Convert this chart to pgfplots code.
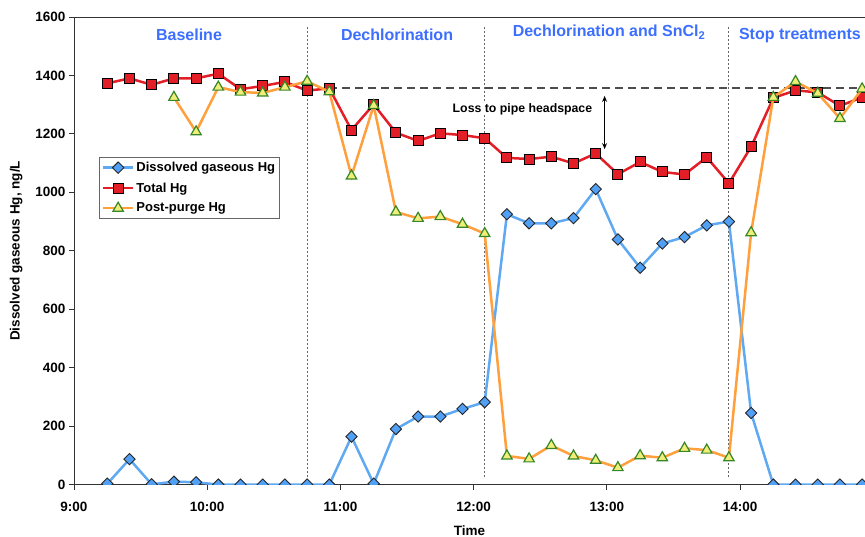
\documentclass[border=0pt]{standalone}
\usepackage{fontspec}
\setmainfont{Liberation Sans}
\usepackage{pgfplots}
\pgfplotsset{compat=1.18}
\usetikzlibrary{arrows.meta}

\definecolor{dgblue}{RGB}{95,168,242}
\definecolor{dgmark}{RGB}{80,160,245}
\definecolor{thred}{RGB}{228,30,38}
\definecolor{ppor}{RGB}{255,160,60}
\definecolor{ppfill}{RGB}{238,238,120}
\definecolor{ppedge}{RGB}{55,135,40}
\definecolor{phase}{RGB}{60,110,255}

\pgfplotstableread{
t v
15 3
25 87
35 1
45 10
55 8
65 0
75 0
85 0
95 0
105 0
115 0
125 164
135 3
145 190
155 233
165 233
175 259
185 282
195 925
205 894
215 894
225 912
235 1011
245 839
255 742
265 825
275 847
285 887
295 900
305 245
315 0
325 0
335 0
345 0
355 0
}\dissolved

\pgfplotstableread{
t v
15 1373
25 1390
35 1368
45 1390
55 1390
65 1406
75 1353
85 1364
95 1378
105 1348
115 1356
125 1213
135 1301
145 1204
155 1176
165 1202
175 1196
185 1185
195 1118
205 1114
215 1122
225 1099
235 1133
245 1062
255 1104
265 1070
275 1061
285 1120
295 1031
305 1156
315 1323
325 1349
335 1342
345 1296
355 1325
}\total

\pgfplotstableread{
t v
45 1325
55 1207
65 1360
75 1343
85 1340
95 1360
105 1380
115 1344
125 1056
135 1297
145 933
155 911
165 917
175 891
185 859
195 98
205 88
215 134
225 98
235 83
245 58
255 99
265 92
275 124
285 118
295 92
305 862
315 1325
325 1379
335 1339
345 1253
355 1354
}\postpurge

\begin{document}
\begin{tikzpicture}
\begin{axis}[
  scale only axis, width=791pt, height=467.6pt,
  xmin=0, xmax=356.3, ymin=0, ymax=1600,
  axis x line*=box, axis y line*=left,
  axis line style={black!80, line width=0.8pt},
  xtick={0,60,...,300}, xticklabels={9:00,10:00,11:00,12:00,13:00,14:00},
  ytick={0,200,...,1600},
  xtick pos=left, ytick pos=left, tick align=outside, major tick length=5pt,
  tick style={black!80, line width=0.8pt},
  /pgf/number format/assume math mode=true, /pgf/number format/1000 sep={},
  ticklabel style={font=\fontsize{13.5}{16}\selectfont\bfseries},
  xticklabel style={yshift=-9pt},
  xlabel={Time}, ylabel={Dissolved gaseous Hg, ng/L},
  label style={font=\fontsize{13.5}{16}\selectfont\bfseries},
  xlabel shift=7pt, ylabel shift=6pt,
  clip marker paths=true,
  legend cell align=left,
  legend style={at={(rel axis cs:0.0316,0.700)}, anchor=north west,
    draw=black!60, line width=0.8pt, font=\fontsize{13}{15}\selectfont\bfseries,
    inner sep=2.5pt, row sep=5.5pt},
  legend image code/.code={\draw[mark repeat=2,mark phase=2] plot coordinates {(0pt,0pt)(15pt,0pt)(30pt,0pt)};},
]
\coordinate (BL) at (rel axis cs:0,0);
\coordinate (TR) at (rel axis cs:1,1);
% dividers
\draw[black!60, line width=1pt, dash pattern=on 2pt off 2pt] (axis cs:105,25) -- (axis cs:105,1570);
\draw[black!60, line width=1pt, dash pattern=on 2pt off 2pt] (axis cs:185,25) -- (axis cs:185,1570);
\draw[black!60, line width=1pt, dash pattern=on 2pt off 2pt] (axis cs:295,25) -- (axis cs:295,1570);
\draw[black!70, line width=1.2pt, dash pattern=on 8pt off 5pt] (axis cs:115,1357) -- (axis cs:356.3,1357);
\draw[black, line width=1pt, {Stealth[length=6pt,width=5pt]}-{Stealth[length=6pt,width=5pt]}] (axis cs:239,1330) -- (axis cs:239,1148);
\node[font=\fontsize{12.3}{14}\selectfont\bfseries, fill=white, inner sep=0.5pt] at (axis cs:202,1285) {Loss to pipe headspace};

\addplot[color=dgblue, line width=2.5pt, mark=square*, mark size=4pt,
  mark options={solid, rotate=45, fill=dgmark, draw=black!85, line width=0.9pt}] table[x=t,y=v] {\dissolved};
\addlegendentry{Dissolved gaseous Hg}
\addplot[color=thred, line width=2.5pt, mark=square*, mark size=5pt,
  mark options={solid, fill=thred, draw=black, line width=1pt}] table[x=t,y=v] {\total};
\addlegendentry{Total Hg}
\addplot[color=ppor, line width=2.5pt, mark=triangle*, mark size=6pt,
  mark options={solid, fill=ppfill, draw=ppedge, line width=1.2pt}] table[x=t,y=v] {\postpurge};
\addlegendentry{Post-purge Hg}

\node[font=\fontsize{16}{18}\selectfont\bfseries, text=phase] at (axis cs:51.8,1539) {Baseline};
\node[font=\fontsize{16}{18}\selectfont\bfseries, text=phase] at (axis cs:145.5,1539) {Dechlorination};
\node[font=\fontsize{16}{18}\selectfont\bfseries, text=phase] at (axis cs:241,1548) {Dechlorination and SnCl\textsubscript{2}};
\node[font=\fontsize{16}{18}\selectfont\bfseries, text=phase] at (axis cs:327,1537) {Stop treatments};
\end{axis}
\pgfresetboundingbox
\path[use as bounding box] ([xshift=-74pt,yshift=-52.4pt]BL) rectangle ([yshift=17pt]TR);
\end{tikzpicture}
\end{document}
